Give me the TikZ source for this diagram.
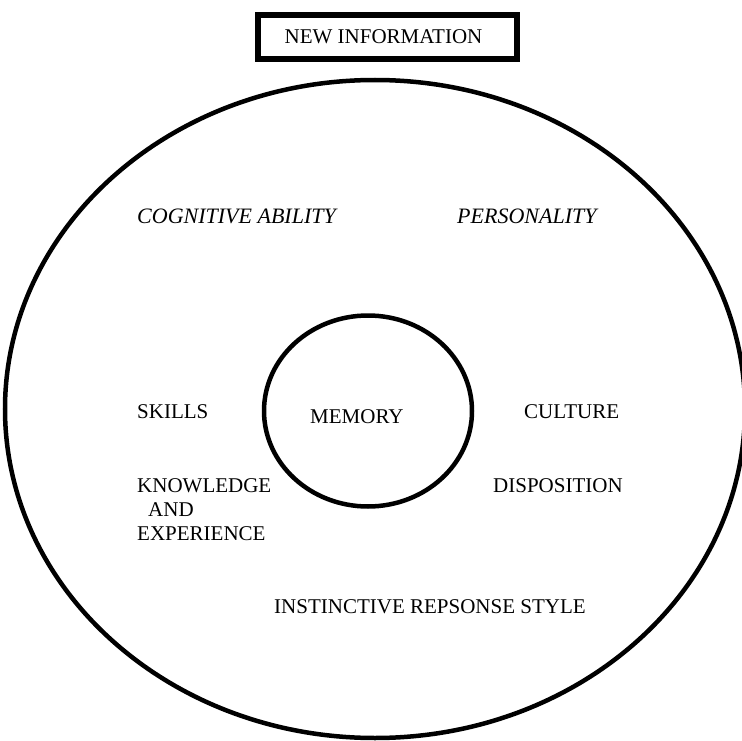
\documentclass[tikz,border=0pt]{standalone}
\usepackage{fontspec}
\setmainfont{Liberation Serif}
\usetikzlibrary{shapes.geometric}
\begin{document}
\begin{tikzpicture}[x=1pt,y=-1pt,
  lbl/.style={inner sep=0pt, anchor=base west, font=\fontsize{21}{24}\selectfont},
  ilbl/.style={lbl, font=\fontsize{22}{25}\selectfont\itshape},
  ring/.style={draw, ellipse, inner sep=0pt, line width=4.5pt},
  infobox/.style={draw, rectangle, line width=6pt, inner sep=0pt,
    minimum width=259pt, minimum height=44pt,
    text height=14pt, text depth=0pt, font=\fontsize{21}{24}\selectfont}]
  \useasboundingbox (0,0) rectangle (742,741);

  % header box
  \node[infobox] (newinfo) at (387.5,37) {\hspace*{-8pt}NEW INFORMATION};

  % outer ring of factors and inner memory ring
  \node[ring, minimum width=740pt, minimum height=658pt] (outer) at (375,409) {};
  \node[ring, minimum width=208pt, minimum height=191pt] (core) at (368,411) {};

  % labels
  \node[ilbl] (cog) at (137,223) {COGNITIVE ABILITY};
  \node[ilbl] (pers) at (457,223) {PERSONALITY};
  \node[lbl] (skills) at (137,418) {SKILLS};
  \node[lbl] (memory) at (310,423) {MEMORY};
  \node[lbl] (culture) at (524,418) {CULTURE};
  \node[lbl] (know) at (137,492) {KNOWLEDGE};
  \node[lbl] (and) at (148,516) {AND};
  \node[lbl] (exp) at (137,540) {EXPERIENCE};
  \node[lbl] (disp) at (493,492) {DISPOSITION};
  \node[lbl] (inst) at (274,613) {INSTINCTIVE REPSONSE STYLE};
\end{tikzpicture}
\end{document}
